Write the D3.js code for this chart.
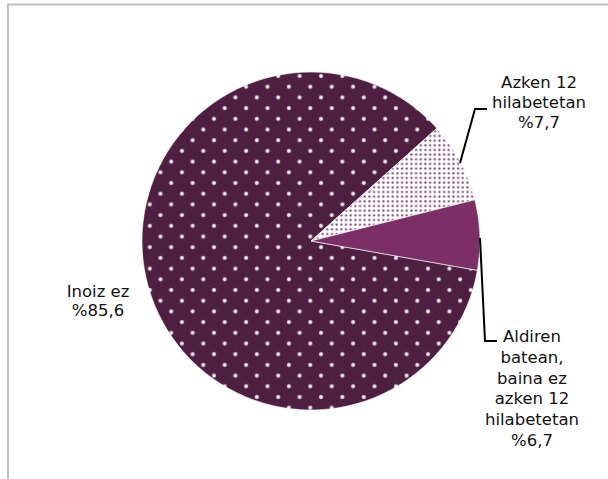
<!DOCTYPE html>
<html>
<head>
<meta charset="utf-8">
<script src="https://cdn.jsdelivr.net/npm/d3@7/dist/d3.min.js"></script>
<style>
  html, body { margin: 0; padding: 0; background: #fff; }
  svg { display: block; }
</style>
</head>
<body>
<svg id="chart" width="608" height="479"></svg>
<script>
// ---- data ----
const categories = ["Inoiz ez", "Azken 12 hilabetetan", "Aldiren batean, baina ez azken 12 hilabetetan"];
const values = [85.6, 7.7, 6.7];
const labelLines = [
  ["Inoiz ez", "%85,6"],
  ["Azken 12", "hilabetetan", "%7,7"],
  ["Aldiren", "batean,", "baina ez", "azken 12", "hilabetetan", "%6,7"]
];

const svg = d3.select("#chart");

// frame
svg.append("rect").attr("x", 8).attr("y", 4.5).attr("width", 700).attr("height", 600)
  .attr("fill", "none").attr("stroke", "#bfbfbf").attr("stroke-width", 2);

const defs = svg.append("defs");
// big dotted pattern
const pb = 21.4;
const p1 = defs.append("pattern").attr("id", "pBig").attr("patternUnits", "userSpaceOnUse")
  .attr("width", pb).attr("height", pb).attr("x", 224 - pb * 10).attr("y", 156 - pb * 7);
p1.append("rect").attr("width", pb).attr("height", pb).attr("fill", "#4f1f41");
const glow = defs.append("radialGradient").attr("id", "glow");
glow.append("stop").attr("offset", "0%").attr("stop-color", "#ffffff").attr("stop-opacity", 1);
glow.append("stop").attr("offset", "50%").attr("stop-color", "#f6f0f4").attr("stop-opacity", 0.95);
glow.append("stop").attr("offset", "100%").attr("stop-color", "#d8c8d2").attr("stop-opacity", 0);
[[0, 0], [pb, 0], [0, pb], [pb, pb], [pb / 2, pb / 2]].forEach(([x, y]) => {
  p1.append("circle").attr("cx", x).attr("cy", y).attr("r", 2.7).attr("fill", "url(#glow)");
});

// fine dotted pattern
const ps = 4.67;
const p2 = defs.append("pattern").attr("id", "pSmall").attr("patternUnits", "userSpaceOnUse")
  .attr("width", ps).attr("height", ps);
p2.append("rect").attr("width", ps).attr("height", ps).attr("fill", "#ffffff");
p2.append("circle").attr("cx", ps / 2).attr("cy", ps / 2).attr("r", 1.15).attr("fill", "#7a4a70");

const fills = ["url(#pBig)", "url(#pSmall)", "#7b2f66"];

const cx = 311, cy = 241, r = 169;
const startDeg = 100;
const pie = d3.pie().sort(null).value(d => d)
  .startAngle(startDeg * Math.PI / 180).endAngle((startDeg + 360) * Math.PI / 180);
const arcs = pie(values);
const arc = d3.arc().innerRadius(0).outerRadius(r);

const g = svg.append("g").attr("transform", `translate(${cx},${cy})`);
g.selectAll("path").data(arcs).join("path")
  .attr("d", arc)
  .attr("fill", (d, i) => fills[i])
  .attr("stroke", "#ffffff").attr("stroke-width", 0.6);

// leader lines
const leaders = [
  null,
  [[460, 163], [475, 109], [487, 109]],
  [[480, 238], [485, 341], [497, 341]]
];
leaders.forEach(pts => {
  if (!pts) return;
  svg.append("path").attr("d", d3.line()(pts)).attr("fill", "none")
    .attr("stroke", "#000").attr("stroke-width", 2);
});

// labels
const labelPos = [
  { x: 98, y: 297, lh: 18.5 },
  { x: 539, y: 88, lh: 20.2 },
  { x: 532, y: 342, lh: 20.8 }
];
labelLines.forEach((lines, i) => {
  const t = svg.append("text").attr("text-anchor", "middle")
    .attr("font-family", "DejaVu Sans, Verdana, sans-serif").attr("font-size", 16.5)
    .attr("fill", "#111");
  lines.forEach((ln, j) => {
    t.append("tspan").attr("x", labelPos[i].x).attr("y", labelPos[i].y + j * labelPos[i].lh).text(ln);
  });
});
</script>
</body>
</html>
